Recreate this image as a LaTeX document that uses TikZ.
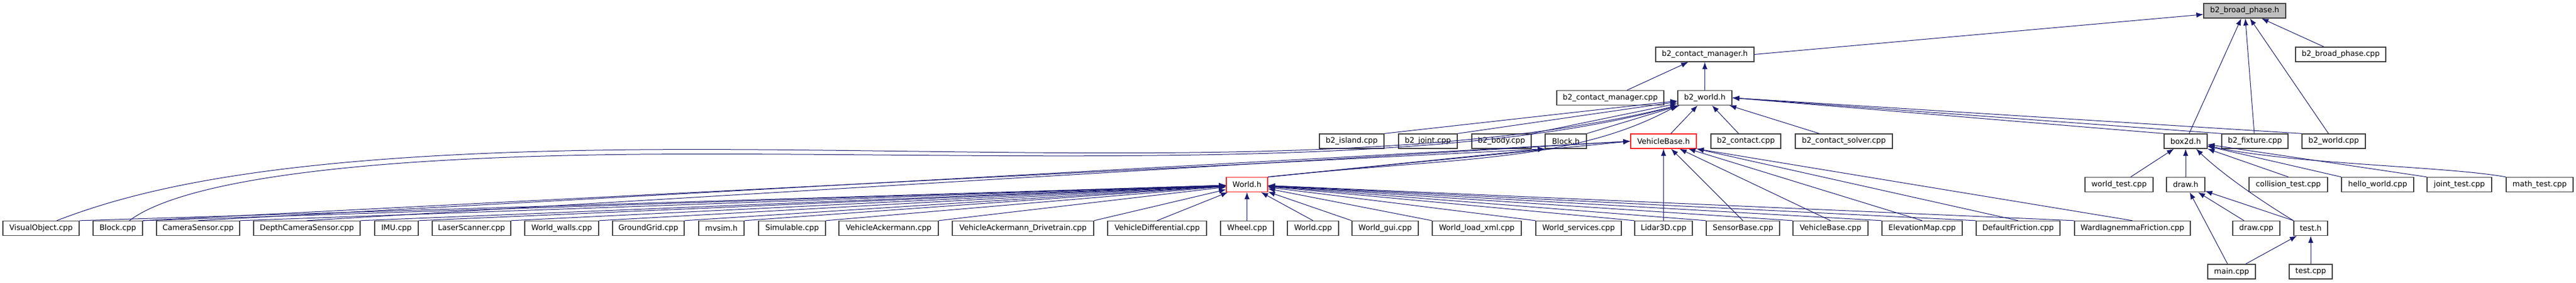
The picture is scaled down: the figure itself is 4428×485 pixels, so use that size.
\documentclass[tikz,border=0pt]{standalone}
\usepackage{fontspec}
\setmainfont{DejaVu Sans}
\usetikzlibrary{arrows.meta}
\definecolor{edgec}{HTML}{191970}
\definecolor{boxc}{HTML}{404040}
\definecolor{rootfill}{HTML}{BFBFBF}
\definecolor{redc}{HTML}{FF2020}
\tikzset{
  nbox/.style={draw=boxc, line width=1.3pt, fill=white, inner sep=0pt, minimum height=25pt, font=\fontsize{13}{15}\selectfont, text=black},
  redbox/.style={nbox, draw=redc},
  rootbox/.style={nbox, fill=rootfill},
  edge/.style={draw=edgec, line width=1pt, -{Latex[length=12pt,width=9pt]}}
}
\begin{document}
\begin{tikzpicture}[x=1pt,y=-1pt]
\useasboundingbox (0,0) rectangle (4428,485);
% row 1
\node[rootbox, minimum width=141pt] (bph) at (3858.5,18.5) {b2\_broad\_phase.h};
% row 2
\node[nbox, minimum width=169pt] (cmh) at (2930.5,93.5) {b2\_contact\_manager.h};
\node[nbox, minimum width=155pt] (bpc) at (4023.5,93.5) {b2\_broad\_phase.cpp};
% row 3
\node[nbox, minimum width=184pt] (cmc) at (2768,168) {b2\_contact\_manager.cpp};
\node[nbox, minimum width=93pt] (wh) at (2930.5,168) {b2\_world.h};
% row 4
\node[nbox, minimum width=111pt] (island) at (2323.5,242.5) {b2\_island.cpp};
\node[nbox, minimum width=101pt] (joint) at (2454.5,242.5) {b2\_joint.cpp};
\node[nbox, minimum width=102pt] (body) at (2581,242.5) {b2\_body.cpp};
\node[nbox, minimum width=71pt] (blockh) at (2691.5,242.5) {Block.h};
\node[redbox, minimum width=113pt] (vbh) at (2859.5,242.5) {VehicleBase.h};
\node[nbox, minimum width=120pt] (contact) at (3001,242.5) {b2\_contact.cpp};
\node[nbox, minimum width=167pt] (csolver) at (3169.5,242.5) {b2\_contact\_solver.cpp};
\node[nbox, minimum width=74pt] (box2d) at (3757,242.5) {box2d.h};
\node[nbox, minimum width=114pt] (fixture) at (3876,242.5) {b2\_fixture.cpp};
\node[nbox, minimum width=109pt] (worldcpp) at (4011.5,242.5) {b2\_world.cpp};
% row 5
\node[redbox, minimum width=71pt] (worldh) at (2143.5,317) {World.h};
\node[nbox, minimum width=117pt] (worldtest) at (3642.5,317) {world\_test.cpp};
\node[nbox, minimum width=66pt] (drawh) at (3757,317) {draw.h};
\node[nbox, minimum width=135pt] (colltest) at (3933.5,317) {collision\_test.cpp};
\node[nbox, minimum width=124pt] (hello) at (4087,317) {hello\_world.cpp};
\node[nbox, minimum width=111pt] (jointtest) at (4227.5,317) {joint\_test.cpp};
\node[nbox, minimum width=115pt] (mathtest) at (4365.5,317) {math\_test.cpp};
% row 6
\node[nbox, minimum width=131pt] (visobj) at (70.5,392) {VisualObject.cpp};
\node[nbox, minimum width=85pt] (blockcpp) at (202.5,392) {Block.cpp};
\node[nbox, minimum width=143pt] (camera) at (340.5,392) {CameraSensor.cpp};
\node[nbox, minimum width=183pt] (depth) at (527.5,392) {DepthCameraSensor.cpp};
\node[nbox, minimum width=75pt] (imu) at (681.5,392) {IMU.cpp};
\node[nbox, minimum width=135pt] (laser) at (810.5,392) {LaserScanner.cpp};
\node[nbox, minimum width=127pt] (walls) at (965.5,392) {World\_walls.cpp};
\node[nbox, minimum width=123pt] (ground) at (1114.5,392) {GroundGrid.cpp};
\node[nbox, minimum width=78pt] (mvsim) at (1240,392) {mvsim.h};
\node[nbox, minimum width=115pt] (simulable) at (1361.5,392) {Simulable.cpp};
\node[nbox, minimum width=171pt] (ack) at (1527.5,392) {VehicleAckermann.cpp};
\node[nbox, minimum width=243pt] (ackdt) at (1758.5,392) {VehicleAckermann\_Drivetrain.cpp};
\node[nbox, minimum width=170pt] (diff) at (1989,392) {VehicleDifferential.cpp};
\node[nbox, minimum width=91pt] (wheel) at (2143.5,392) {Wheel.cpp};
\node[nbox, minimum width=88pt] (worldc) at (2257,392) {World.cpp};
\node[nbox, minimum width=114pt] (gui) at (2381,392) {World\_gui.cpp};
\node[nbox, minimum width=153pt] (loadxml) at (2538.5,392) {World\_load\_xml.cpp};
\node[nbox, minimum width=147pt] (services) at (2713.5,392) {World\_services.cpp};
\node[nbox, minimum width=99pt] (lidar) at (2859.5,392) {Lidar3D.cpp};
\node[nbox, minimum width=126pt] (sensorbase) at (2996,392) {SensorBase.cpp};
\node[nbox, minimum width=129pt] (vbc) at (3146.5,392) {VehicleBase.cpp};
\node[nbox, minimum width=138pt] (elev) at (3304,392) {ElevationMap.cpp};
\node[nbox, minimum width=144pt] (deff) at (3469,392) {DefaultFriction.cpp};
\node[nbox, minimum width=199pt] (ward) at (3665.5,392) {WardIagnemmaFriction.cpp};
\node[nbox, minimum width=81pt] (drawc) at (3878.5,392) {draw.cpp};
\node[nbox, minimum width=58pt] (testh) at (3972,392) {test.h};
% row 7
\node[nbox, minimum width=82pt] (mainc) at (3836,466.5) {main.cpp};
\node[nbox, minimum width=74pt] (testc) at (3972,466.5) {test.cpp};

% edges to b2_broad_phase.h
\draw[edge] (cmh.east) -- (bph);
\draw[edge] (bpc) -- (bph);
\draw[edge] (box2d) -- (bph);
\draw[edge] (fixture) -- (bph);
\draw[edge] (worldcpp) -- (bph);
% edges to b2_contact_manager.h
\draw[edge] (cmc) -- (cmh);
\draw[edge] (wh) -- (cmh);
% edges to b2_world.h
\draw[edge] (island.north east) -- (wh);
\draw[edge] (joint.north east) -- (wh);
\draw[edge] (body.north east) -- (wh);
\draw[edge] (blockh.north east) -- (wh);
\draw[edge] (vbh) -- (wh);
\draw[edge] (contact) -- (wh);
\draw[edge] (csolver) -- (wh);
\draw[edge] (box2d.north west) -- (wh.east);
\draw[edge] (fixture.north west) -- (wh.east);
\draw[edge] (worldcpp.north west) -- (wh.east);
\draw[edge] (worldh.north east) .. controls (2500,270) and (2700,280) .. (wh.south west);
\draw[edge] ([xshift=27pt]visobj.north) .. controls (250,320) and (500,262) .. (1100,257) .. controls (1700,252) and (2400,300) .. (wh.south west);
\draw[edge] ([xshift=20pt]blockcpp.north) .. controls (300,320) and (550,270) .. (1100,265) .. controls (1700,260) and (2450,300) .. (wh.south west);
% edges to Block.h
\draw[edge] (worldh.north east) -- (blockh.south west);
\draw[edge] (blockcpp.north east) -- (blockh.south west);
% edges to VehicleBase.h
\draw[edge] (worldh.north east) -- (vbh.west);
\draw[edge] (camera.north) -- (vbh.west);
\draw[edge] (depth.north) -- (vbh.west);
\draw[edge] (lidar) -- (vbh);
\draw[edge] (sensorbase.north) -- (vbh);
\draw[edge] (vbc.north) -- (vbh);
\draw[edge] (elev.north) -- (vbh);
\draw[edge] (deff.north) -- (vbh.south east);
\draw[edge] (ward.north) -- (vbh.south east);
% edges to World.h
\foreach \c in {visobj,blockcpp,camera,depth,imu,laser,walls,ground,mvsim,simulable,ack,ackdt}
  \draw[edge] (\c.north east) -- (worldh);
\draw[edge] (diff.north) -- (worldh);
\draw[edge] (wheel) -- (worldh);
\draw[edge] (worldc.north) -- (worldh);
\foreach \c in {gui,loadxml,services,lidar,sensorbase,vbc,elev,deff,ward}
  \draw[edge] (\c.north west) -- (worldh);
% edges to box2d.h
\draw[edge] ([xshift=20pt]worldtest.north) -- (box2d);
\draw[edge] (drawh) -- (box2d);
\draw[edge] (testh.north west) .. controls (3870,335) and (3810,290) .. ([xshift=18pt]box2d.south);
\draw[edge] (colltest.north) -- (box2d);
\draw[edge] (hello.north west) -- (box2d);
\draw[edge] (jointtest.north west) -- (box2d);
\draw[edge] (mathtest.north west) .. controls (4200,285) and (3950,283) .. (box2d);
% edges to draw.h
\draw[edge] (mainc) -- (drawh);
\draw[edge] (drawc) -- (drawh);
\draw[edge] (testh.north west) -- (drawh);
% edges to test.h
\draw[edge] (mainc) -- (testh);
\draw[edge] (testc) -- (testh);
\end{tikzpicture}
\end{document}
